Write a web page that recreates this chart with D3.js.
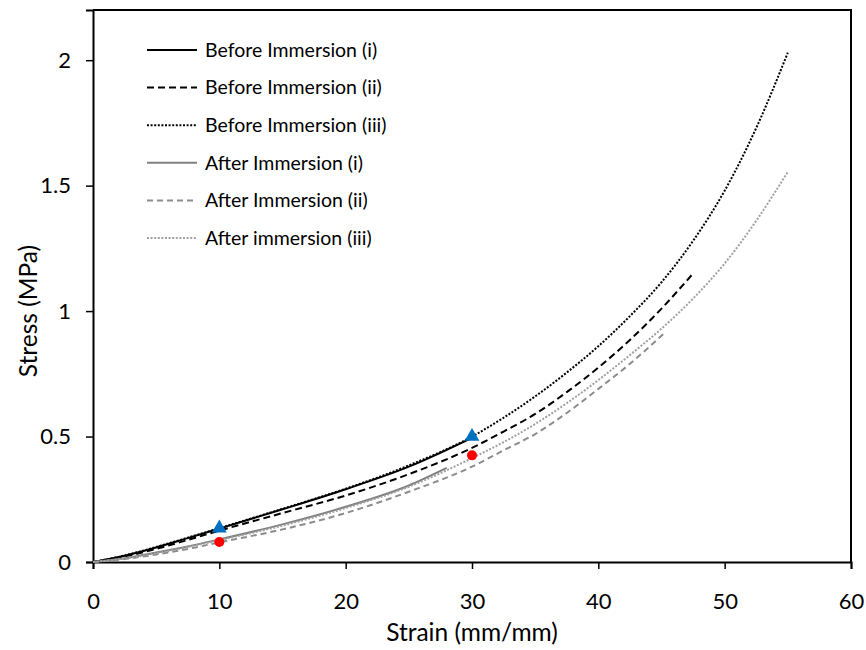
<!DOCTYPE html>
<html>
<head>
<meta charset="utf-8">
<script src="https://cdn.jsdelivr.net/npm/d3@7"></script>
<style>
  body { margin: 0; background: #fff; }
  text { font-family: Lato, "Open Sans", sans-serif; }
</style>
</head>
<body>
<div id="chart"></div>
<script>
// strain (mm/mm) vs stress (MPa)
const beforeI_x   = [0, 2.5, 5, 7.5, 10, 15, 20, 25, 30];
const beforeI_y   = [0, 0.025, 0.058, 0.095, 0.133, 0.21, 0.29, 0.38, 0.495];
const beforeII_x  = [0, 2.5, 5, 7.5, 10, 15, 20, 25, 30, 32.5, 35, 37.5, 40, 42.5, 45, 47.5];
const beforeII_y  = [0, 0.022, 0.052, 0.088, 0.125, 0.195, 0.265, 0.35, 0.455, 0.52, 0.59, 0.677, 0.775, 0.885, 1.01, 1.15];
const beforeIII_x = [0, 2.5, 5, 7.5, 10, 15, 20, 25, 30, 32.5, 35, 37.5, 40, 42.5, 45, 47.5, 50, 52.5, 55];
const beforeIII_y = [0, 0.026, 0.06, 0.097, 0.135, 0.212, 0.292, 0.385, 0.5, 0.575, 0.66, 0.755, 0.86, 0.98, 1.115, 1.28, 1.48, 1.73, 2.03];
const afterI_x    = [0, 2.5, 5, 7.5, 10, 15, 20, 25, 28];
const afterI_y    = [0, 0.015, 0.038, 0.062, 0.09, 0.15, 0.22, 0.305, 0.375];
const afterII_x   = [0, 2.5, 5, 7.5, 10, 15, 20, 25, 30, 32.5, 35, 37.5, 40, 42.5, 45.3];
const afterII_y   = [0, 0.012, 0.03, 0.052, 0.078, 0.13, 0.195, 0.28, 0.38, 0.445, 0.51, 0.594, 0.69, 0.79, 0.916];
const afterIII_x  = [0, 2.5, 5, 7.5, 10, 15, 20, 25, 30, 32.5, 35, 37.5, 40, 42.5, 45, 47.5, 50, 52.5, 55];
const afterIII_y  = [0, 0.014, 0.035, 0.06, 0.087, 0.145, 0.215, 0.3, 0.414, 0.478, 0.55, 0.633, 0.725, 0.825, 0.93, 1.05, 1.19, 1.36, 1.555];

const triangle_x = [10, 30], triangle_y = [0.135, 0.5];
const circle_x = [10, 30], circle_y = [0.08, 0.425];

const xTicks = [0, 10, 20, 30, 40, 50, 60];
const yTicks = [0, 0.5, 1, 1.5, 2];

const series = [
  {name: "Before Immersion (i)",   xs: beforeI_x,   ys: beforeI_y,   color: "#000", dash: null},
  {name: "Before Immersion (ii)",  xs: beforeII_x,  ys: beforeII_y,  color: "#000", dash: "7,4"},
  {name: "Before Immersion (iii)", xs: beforeIII_x, ys: beforeIII_y, color: "#000", dash: "2,1.6"},
  {name: "After Immersion (i)",    xs: afterI_x,    ys: afterI_y,    color: "#808080", dash: null},
  {name: "After Immersion (ii)",   xs: afterII_x,   ys: afterII_y,   color: "#8c8c8c", dash: "6,4"},
  {name: "After immersion (iii)",  xs: afterIII_x,  ys: afterIII_y,  color: "#a0a0a0", dash: "2,1.6"}
];

var width = 866, height = 650;
var svg = d3.select("#chart").append("svg")
    .attr("width", width)
    .attr("height", height);

var x = d3.scaleLinear().domain([0, 60]).range([93, 851]);
var y = d3.scaleLinear().domain([0, 2.2]).range([562, 10]);

// plot frame (top/right)
svg.append("path")
    .attr("d", "M" + x(0) + "," + y(2.2) + "H" + x(60) + "V" + y(0))
    .attr("fill", "none")
    .attr("stroke", "#000")
    .attr("stroke-width", 2);

var xAxis = svg.append("g")
    .attr("transform", "translate(0," + y(0) + ")")
    .call(d3.axisBottom(x).tickValues(xTicks).tickSize(7).tickPadding(24).tickFormat(d3.format("d")));
var yAxis = svg.append("g")
    .attr("transform", "translate(" + x(0) + ",0)")
    .call(d3.axisLeft(y).tickValues(yTicks).tickSize(7).tickPadding(15).tickFormat(function(d){ return d; }));

[xAxis, yAxis].forEach(function(a){
  a.select(".domain").attr("stroke", "#000").attr("stroke-width", 2);
  a.selectAll(".tick line").attr("stroke", "#000").attr("stroke-width", 1.5);
  a.selectAll(".tick text").style("font-size", "22px").attr("fill", "#000");
});

var line = d3.line()
    .x(function(d){ return x(d[0]); })
    .y(function(d){ return y(d[1]); })
    .curve(d3.curveMonotoneX);

series.forEach(function(s){
  var pts = s.xs.map(function(v, i){ return [v, s.ys[i]]; });
  svg.append("path")
      .datum(pts)
      .attr("d", line)
      .attr("fill", "none")
      .attr("stroke", s.color)
      .attr("stroke-width", 2)
      .attr("stroke-dasharray", s.dash);
});

// markers
var tri = d3.symbol().type(d3.symbolTriangle).size(95);
triangle_x.forEach(function(v, i){
  svg.append("path")
      .attr("d", tri)
      .attr("transform", "translate(" + x(v) + "," + y(triangle_y[i]) + ")")
      .attr("fill", "#0070C0");
});
circle_x.forEach(function(v, i){
  svg.append("circle")
      .attr("cx", x(v))
      .attr("cy", y(circle_y[i]))
      .attr("r", 5)
      .attr("fill", "#FF0000");
});

// legend
var legend = svg.selectAll(".legend")
    .data(series)
    .enter().append("g")
    .attr("class", "legend")
    .attr("transform", function(d, i){ return "translate(147," + (50 + i * 37.6) + ")"; });

legend.append("line")
    .attr("x1", 0).attr("x2", 50)
    .attr("stroke", function(d){ return d.color; })
    .attr("stroke-width", 2)
    .attr("stroke-dasharray", function(d){ return d.dash; });

legend.append("text")
    .attr("x", 58)
    .attr("dy", "0.35em")
    .style("font-size", "19.5px")
    .attr("fill", "#000")
    .text(function(d){ return d.name; });

// axis titles
svg.append("text")
    .attr("x", (x(0) + x(60)) / 2)
    .attr("y", 641)
    .attr("text-anchor", "middle")
    .style("font-size", "24.5px")
    .text("Strain (mm/mm)");

svg.append("text")
    .attr("transform", "translate(37," + y(1.0) + ") rotate(-90)")
    .attr("text-anchor", "middle")
    .style("font-size", "24.5px")
    .text("Stress (MPa)");
</script>
</body>
</html>
